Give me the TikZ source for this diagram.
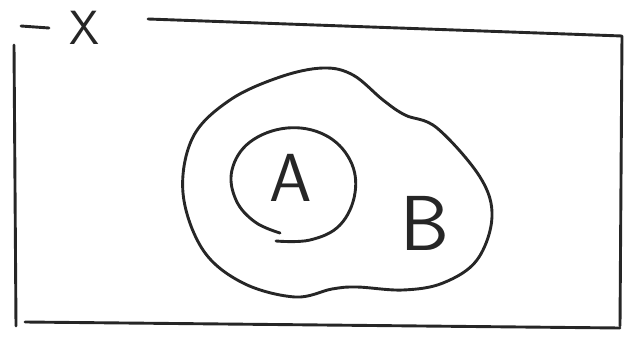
\documentclass[tikz,border=0pt]{standalone}
\begin{document}
\begin{tikzpicture}[x=1pt,y=-1pt,
  pen/.style={line width=2.9pt,line cap=round,line join=round,black!85},
  lbl/.style={font=\sffamily,text=black!85,inner sep=0pt}]
\useasboundingbox (0,0) rectangle (625,343);
% universe rectangle
\draw[pen] (148,19) -- (622,36) -- (620,326);
\draw[pen] (14,45) -- (16,326);
\draw[pen] (25,322) -- (620,328);
\draw[pen] (21,26) -- (49,28);
\node[lbl,font=\sffamily\fontsize{48}{48}\selectfont] (X) at (85,28) {X};
% blob B
\draw[pen] plot[smooth cycle,tension=0.6] coordinates {
 (353,75) (383,100) (405,115) (437,128) (480,177) (492,217) (477,260)
 (443,283) (403,290) (357,287) (332,289) (295,297) (243,283) (203,250)
 (183,193) (193,137) (230,100) (280,77) (323,68)};
% circle A
\draw[pen] plot[smooth,tension=0.65] coordinates {
 (280,233) (255,222) (236,200) (232,170) (250,142) (287,128) (325,135)
 (350,160) (355,193) (340,225) (310,240) (276,241)};
\node[lbl,font=\sffamily\fontsize{68}{68}\selectfont] (A) at (291,178) {A};
\node[lbl,font=\sffamily\fontsize{78}{78}\selectfont] (B) at (425,223) {B};
\end{tikzpicture}
\end{document}
